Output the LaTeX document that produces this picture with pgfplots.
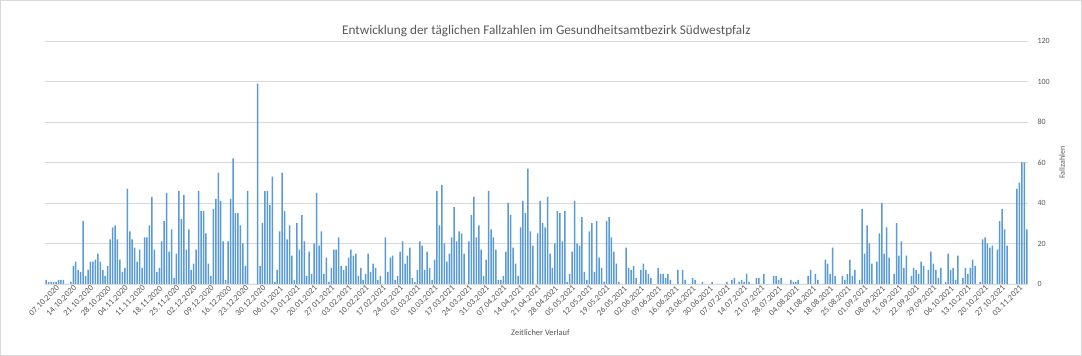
\documentclass[border=0pt]{standalone}
\usepackage{fontspec}
\setmainfont{Carlito}
\usepackage{pgfplots}
\pgfplotsset{compat=1.18}
\definecolor{barblue}{RGB}{91,155,213}
\definecolor{gridgray}{RGB}{217,217,217}
\definecolor{txtgray}{RGB}{89,89,89}
\begin{document}
\begin{tikzpicture}
\useasboundingbox (0,0) rectangle (1082bp,356bp);
\fill[white] (0,0) rectangle (1082bp,356bp);
\draw[gridgray,line width=0.8bp] (0.5bp,0.5bp) rectangle (1081.5bp,355.5bp);
\begin{axis}[
  at={(45bp,72bp)}, anchor=south west,
  scale only axis, width=983bp, height=243bp,
  xmin=-3.5, xmax=396.5, ymin=0, ymax=120,
  ytick={0,20,...,120},
  xtick={0,7,...,392},
  xticklabels={07.10.2020,14.10.2020,21.10.2020,28.10.2020,04.11.2020,11.11.2020,18.11.2020,25.11.2020,02.12.2020,09.12.2020,16.12.2020,23.12.2020,30.12.2020,06.01.2021,13.01.2021,20.01.2021,27.01.2021,03.02.2021,10.02.2021,17.02.2021,24.02.2021,03.03.2021,10.03.2021,17.03.2021,24.03.2021,31.03.2021,07.04.2021,14.04.2021,21.04.2021,28.04.2021,05.05.2021,12.05.2021,19.05.2021,26.05.2021,02.06.2021,09.06.2021,16.06.2021,23.06.2021,30.06.2021,07.07.2021,14.07.2021,21.07.2021,28.07.2021,04.08.2021,11.08.2021,18.08.2021,25.08.2021,01.09.2021,08.09.2021,15.09.2021,22.09.2021,29.09.2021,06.10.2021,13.10.2021,20.10.2021,27.10.2021,03.11.2021},
  axis x line*=bottom, axis y line*=right,
  x axis line style={draw=gridgray, line width=0.8bp, -},
  y axis line style={draw=none},
  ymajorgrids, grid style={draw=gridgray, line width=0.8bp},
  tick style={draw=none},
  /pgf/number format/assume math mode=true,
  yticklabel style={font=\fontsize{8}{9}\selectfont, text=txtgray, anchor=west, xshift=6bp},
  xticklabel style={font=\fontsize{8.5}{9}\selectfont, text=txtgray, rotate=45, anchor=north east, inner sep=1bp, xshift=2bp, yshift=-1bp},
  title={Entwicklung der täglichen Fallzahlen im Gesundheitsamtbezirk Südwestpfalz},
  title style={font=\fontsize{13.3}{15}\selectfont, text=txtgray, at={(axis description cs:0.51,1.018)}, anchor=center},
  xlabel={Zeitlicher Verlauf},
  xlabel style={font=\fontsize{8.5}{9}\selectfont, text=txtgray, at={(axis description cs:0.504,-0.2)}, anchor=center},
  ylabel={Fallzahlen},
  ylabel style={font=\fontsize{8}{9}\selectfont, text=txtgray, at={(axis description cs:1.0346,0.5)}, anchor=center},
]
\addplot[ybar, bar width=1.5bp, bar shift=0pt, fill=barblue, draw=none] coordinates {
(-3,2) (-2,1) (-1,1) (0,1) (1,1) (2,2) (3,2) (4,2) (5,0) (6,0) (7,1) (8,9) (9,11) (10,7) (11,6) (12,31) (13,4) (14,7) (15,11) (16,11)
(17,12) (18,15) (19,11) (20,7) (21,4) (22,9) (23,22) (24,28) (25,29) (26,22) (27,12) (28,6) (29,8) (30,47) (31,26) (32,22) (33,18) (34,11) (35,17) (36,8)
(37,23) (38,23) (39,29) (40,43) (41,17) (42,6) (43,8) (44,21) (45,31) (46,45) (47,16) (48,27) (49,3) (50,15) (51,46) (52,32) (53,44) (54,17) (55,27) (56,7)
(57,10) (58,17) (59,46) (60,36) (61,36) (62,25) (63,10) (64,4) (65,37) (66,42) (67,55) (68,41) (69,21) (70,2) (71,21) (72,42) (73,62) (74,35) (75,35) (76,29)
(77,20) (78,9) (79,46) (80,0) (81,0) (82,0) (83,99) (84,9) (85,30) (86,46) (87,46) (88,39) (89,53) (90,1) (91,7) (92,26) (93,55) (94,36) (95,22) (96,29)
(97,14) (98,2) (99,30) (100,17) (101,34) (102,21) (103,4) (104,16) (105,5) (106,20) (107,45) (108,19) (109,26) (110,5) (111,13) (112,1) (113,8) (114,17) (115,17) (116,23)
(117,9) (118,7) (119,9) (120,13) (121,17) (122,14) (123,15) (124,4) (125,8) (126,2) (127,5) (128,15) (129,6) (130,10) (131,8) (132,2) (133,4) (134,0) (135,23) (136,6)
(137,13) (138,14) (139,2) (140,4) (141,16) (142,21) (143,10) (144,14) (145,18) (146,3) (147,1) (148,7) (149,21) (150,19) (151,7) (152,16) (153,8) (154,2) (155,12) (156,46)
(157,29) (158,49) (159,20) (160,11) (161,15) (162,23) (163,38) (164,21) (165,26) (166,25) (167,15) (168,0) (169,21) (170,34) (171,43) (172,23) (173,29) (174,17) (175,4) (176,12)
(177,46) (178,27) (179,23) (180,17) (181,2) (182,2) (183,4) (184,16) (185,40) (186,34) (187,18) (188,10) (189,4) (190,28) (191,41) (192,35) (193,57) (194,26) (195,19) (196,0)
(197,25) (198,41) (199,30) (200,28) (201,43) (202,15) (203,8) (204,20) (205,36) (206,35) (207,21) (208,36) (209,1) (210,5) (211,16) (212,41) (213,20) (214,19) (215,33) (216,6)
(217,2) (218,26) (219,30) (220,6) (221,31) (222,13) (223,8) (224,1) (225,31) (226,33) (227,23) (228,16) (229,10) (230,1) (231,0) (232,0) (233,18) (234,8) (235,7) (236,9)
(237,3) (238,0) (239,7) (240,10) (241,7) (242,5) (243,3) (244,0) (245,0) (246,8) (247,5) (248,5) (249,3) (250,5) (251,2) (252,0) (253,0) (254,7) (255,0) (256,7)
(257,2) (258,0) (259,0) (260,3) (261,2) (262,0) (263,0) (264,1) (265,0) (266,0) (267,0) (268,1) (269,0) (270,0) (271,0) (272,0) (273,0) (274,1) (275,0) (276,2)
(277,3) (278,0) (279,1) (280,2) (281,1) (282,5) (283,1) (284,0) (285,0) (286,3) (287,3) (288,0) (289,5) (290,0) (291,0) (292,0) (293,4) (294,4) (295,2) (296,3)
(297,0) (298,0) (299,0) (300,2) (301,1) (302,1) (303,2) (304,0) (305,0) (306,0) (307,4) (308,7) (309,0) (310,5) (311,2) (312,0) (313,0) (314,12) (315,10) (316,5)
(317,18) (318,4) (319,0) (320,0) (321,4) (322,2) (323,5) (324,12) (325,4) (326,7) (327,0) (328,2) (329,37) (330,15) (331,29) (332,20) (333,10) (334,0) (335,11) (336,25)
(337,40) (338,15) (339,28) (340,13) (341,0) (342,5) (343,30) (344,14) (345,21) (346,8) (347,14) (348,0) (349,4) (350,8) (351,7) (352,5) (353,11) (354,9) (355,0) (356,7)
(357,16) (358,10) (359,7) (360,3) (361,8) (362,0) (363,1) (364,15) (365,7) (366,8) (367,2) (368,14) (369,0) (370,3) (371,8) (372,5) (373,8) (374,12) (375,9) (376,0)
(377,1) (378,22) (379,23) (380,20) (381,18) (382,19) (383,0) (384,17) (385,31) (386,37) (387,27) (388,19) (389,0) (390,0) (391,0) (392,47) (393,50) (394,60) (395,60) (396,27)
};
\end{axis}
\end{tikzpicture}
\end{document}
